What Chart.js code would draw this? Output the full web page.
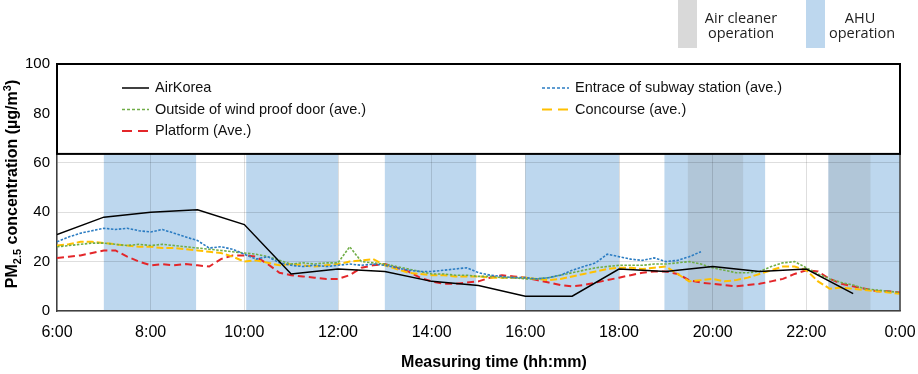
<!DOCTYPE html>
<html>
<head>
<meta charset="utf-8">
<script src="https://cdn.jsdelivr.net/npm/chart.js@4"></script>
<style>
html,body{margin:0;padding:0;background:#fff;}
#wrap{width:918px;height:374px;position:relative;}
</style>
</head>
<body>
<div id="wrap"><canvas id="c" width="918" height="374"></canvas></div>
<script>
// ---------- data ----------
const tickLabels = ['6:00','8:00','10:00','12:00','14:00','16:00','18:00','20:00','22:00','0:00'];
const yTicks = [0, 20, 40, 60, 80, 100];

// AirKorea: hourly values 6:00 .. 23:00
const airKoreaHours = [6,7,8,9,10,11,12,13,14,15,16,17,18,19,20,21,22,23];
const airKorea      = [31,38,40,41,35,15,17,16,12,10.3,6,6,17,16,18,16,17,7];

// Station averages: every 15 minutes from 6:00 to 24:00
const seriesStartHour = 6;
const seriesStepHours = 0.25;
const entrance = [
  28,30,31.5,32.5, 33.5,33,33.5,32.5, 32,33,31.5,30, 28.5,25.5,26,25,
  23,21,22,19.5, 18.5,18,18.5,18, 18.5,19,18.5,19, 18.5,17.5,16.5,16,
  16,16.5,17,17.5, 15.5,14.5,14,13.5, 13.5,13,13.5,14.5, 16.5,18,19.5,23,
  22,21,20.5,21.5, 20,20.5,22,24
];
const outside = [
  26,26.5,27,27.5, 27.5,27,26.5,27, 26.5,27,26.5,26, 25.5,25,24.5,24,
  23.5,23,22,20.5, 19,19.5,19,19.5, 19.5,26,20,19.5, 19,18,17,16,
  15,15,14.5,14.5, 14,14,13.5,13.5, 13,13,13.5,14.5, 15.5,16.5,17.5,18,
  18.5,18.5,18.5,19, 19,19.5,20,19, 17.5,16.5,15.5,15.5, 16,18,19.5,20,
  17.5,15,13,11.5, 10.5,9,8.5,8, 7.5
];
const concourse = [
  26.5,27,28,28, 27.5,27,26.5,26, 26,25.5,25.5,25, 24.5,24,23.5,22,
  20,20.5,19.5,18.5, 19,18.5,18,18.5, 19,20,20.5,21, 18.5,17,15.5,15,
  14.5,14.5,14,14, 14,13.5,13.5,13.5, 13.5,13,12.5,13, 14,15,16,17,
  17.5,17.5,17,17.5, 18,15,12,12.5, 13,12,12.5,13.5, 15,16.5,18,18,
  16.5,12,9,9.5, 9,8.5,8,7.5, 7
];
const platform = [
  21.5,22,22.5,23.5, 24.5,24.5,22,20, 18.5,19,18.5,19, 18.5,18,21,22.5,
  22.5,22,19,15.5, 14.5,14,13.5,13, 13,14.5,17.5,18.5, 19,17.5,16,13.5,
  12,11,11,11.5, 12,13.5,14.5,14, 13.5,12.5,11.5,10.5, 10,10.5,11.5,12.5,
  13.5,14.5,15.5,16, 16,15,12.5,11.5, 11,10.5,10,10.5, 11,12,13,15,
  16.5,16,13,11, 10,9,8,8, 7.5
];

// Operation periods (hours)
const ahuPeriods = [[7,8.97],[10.04,12],[13,14.95],[16,18],[18.97,21.12],[22.47,24]];
const airCleanerPeriods = [[19.47,20.65],[22.47,23.37]];

// ---------- helpers ----------
const FONT = '"Liberation Sans", Arial, sans-serif';
function toPoints(values){
  return values.map((v,i)=>({x: seriesStartHour + i*seriesStepHours, y: v}));
}
const AHU_COLOR = '#bdd7ee';
const CLEANER_COLOR = 'rgba(128,128,128,0.2)';

const bandsPlugin = {
  id:'bands',
  beforeDraw(chart){
    const {ctx, chartArea:a, scales:{x}} = chart;
    ctx.save();
    ctx.fillStyle = AHU_COLOR;
    ahuPeriods.forEach(p=>{
      const x0 = x.getPixelForValue(p[0]), x1 = x.getPixelForValue(p[1]);
      ctx.fillRect(x0, a.top, x1-x0, a.bottom-a.top);
    });
    ctx.fillStyle = CLEANER_COLOR;
    airCleanerPeriods.forEach(p=>{
      const x0 = x.getPixelForValue(p[0]), x1 = x.getPixelForValue(p[1]);
      ctx.fillRect(x0, a.top, x1-x0, a.bottom-a.top);
    });
    ctx.restore();
  }
};

const legendBoxPlugin = {
  id:'legendBox',
  afterDatasetsDraw(chart){
    const {ctx, chartArea:a, scales:{y}} = chart;
    ctx.save();
    // right frame line
    ctx.strokeStyle = '#404040'; ctx.lineWidth = 1.5;
    ctx.beginPath(); ctx.moveTo(a.right, a.top); ctx.lineTo(a.right, a.bottom); ctx.stroke();
    // legend box
    const top = y.getPixelForValue(100), bottom = y.getPixelForValue(63.6);
    ctx.fillStyle = '#fff';
    ctx.fillRect(a.left, top, a.right-a.left, bottom-top);
    ctx.strokeStyle = '#000'; ctx.lineWidth = 2;
    ctx.strokeRect(a.left, top, a.right-a.left, bottom-top);
    // entries: [datasetIndex, sampleX, rowY]
    const layout = [[0,122,88],[2,122,109.5],[4,122,131],[1,542,88],[3,542,109.5]];
    ctx.font = '14.5px ' + FONT;
    ctx.textBaseline = 'middle';
    ctx.fillStyle = '#111';
    layout.forEach(([di,sx,ry])=>{
      const ds = chart.data.datasets[di];
      ctx.save();
      ctx.strokeStyle = ds.borderColor;
      ctx.lineWidth = ds.borderWidth;
      ctx.setLineDash(ds.legendDash || ds.borderDash || []);
      ctx.beginPath(); ctx.moveTo(sx, ry); ctx.lineTo(sx+27, ry); ctx.stroke();
      ctx.restore();
      ctx.fillText(ds.label, sx+33, ry);
    });
    ctx.restore();
  },
  afterDraw(chart){
    const {ctx, chartArea:a} = chart;
    ctx.save();
    // y title with sub/superscripts
    const big = 'bold 16px ' + FONT, small = 'bold 11px ' + FONT;
    const parts = [['PM',big,0],['2.5',small,4],[' concentration (\u00b5g/m',big,0],['3',small,-6],[')',big,0]];
    let total = 0;
    parts.forEach(p=>{ctx.font=p[1]; total += ctx.measureText(p[0]).width;});
    ctx.translate(17, 184);
    ctx.rotate(-Math.PI/2);
    ctx.fillStyle = '#000';
    ctx.textBaseline = 'alphabetic';
    ctx.textAlign = 'left';
    let cx = -total/2;
    parts.forEach(p=>{ctx.font=p[1]; ctx.fillText(p[0], cx, p[2]); cx += ctx.measureText(p[0]).width;});
    ctx.restore();
    // x title
    ctx.save();
    ctx.font = 'bold 16px ' + FONT;
    ctx.fillStyle = '#000';
    ctx.textAlign = 'center'; ctx.textBaseline = 'middle';
    ctx.fillText('Measuring time (hh:mm)', 494, 363);
    ctx.restore();
    // operation legend (top right)
    ctx.save();
    ctx.fillStyle = '#d9d9d9'; ctx.fillRect(678, 0, 19, 48);
    ctx.fillStyle = AHU_COLOR; ctx.fillRect(806, 0, 19, 48);
    ctx.fillStyle = '#222';
    ctx.font = '14.5px "Open Sans", "Noto Sans", sans-serif';
    ctx.textAlign = 'center'; ctx.textBaseline = 'alphabetic';
    ctx.fillText('Air cleaner', 741, 23);
    ctx.fillText('operation', 741, 38);
    ctx.fillText('AHU', 860, 23);
    ctx.fillText('operation', 862, 38);
    ctx.restore();
  }
};

const chart = new Chart(document.getElementById('c'), {
  type:'line',
  data:{
    datasets:[
      {label:'AirKorea', data: airKoreaHours.map((h,i)=>({x:h, y:airKorea[i]})),
       borderColor:'#000', borderWidth:1.5, borderDash:[], legendDash:[]},
      {label:'Entrace of subway station (ave.)', data: toPoints(entrance),
       borderColor:'#2b7cc2', borderWidth:1.6, borderDash:[2.5,1.5], legendDash:[3,2]},
      {label:'Outside of wind proof door (ave.)', data: toPoints(outside),
       borderColor:'#70ad47', borderWidth:1.6, borderDash:[2.5,1.5], legendDash:[3,2]},
      {label:'Concourse (ave.)', data: toPoints(concourse),
       borderColor:'#ffc000', borderWidth:2, borderDash:[7,3], legendDash:[10,6]},
      {label:'Platform (Ave.)', data: toPoints(platform),
       borderColor:'#e3262a', borderWidth:2, borderDash:[7,4], legendDash:[10,6]}
    ]
  },
  options:{
    responsive:false, animation:false, devicePixelRatio:1,
    layout:{padding:{top:64,right:18,left:0,bottom:0}},
    plugins:{legend:{display:false}, tooltip:{enabled:false}},
    elements:{point:{radius:0}, line:{tension:0, fill:false}},
    scales:{
      x:{type:'linear', min:6, max:24,
         ticks:{stepSize:2, autoSkip:false, maxRotation:0, padding:12, color:'#000',
                font:{family:FONT, size:16},
                callback:(v,i)=>tickLabels[i]},
         grid:{color:'rgba(0,0,0,0.13)', drawTicks:false},
         border:{color:'#404040', width:1.5},
         afterFit:(s)=>{s.height = 63; s.paddingLeft = 0; s.paddingRight = 0;}},
      y:{min:0, max:100,
         afterBuildTicks:(s)=>{s.ticks = yTicks.map(v=>({value:v}));},
         ticks:{padding:7, color:'#000', font:{family:FONT, size:15}},
         grid:{color:'rgba(0,0,0,0.13)', drawTicks:false},
         border:{color:'#404040', width:1.5},
         afterFit:(s)=>{s.width = 57; s.paddingTop = 0; s.paddingBottom = 0;}}
    }
  },
  plugins:[bandsPlugin, legendBoxPlugin]
});
</script>
</body>
</html>
